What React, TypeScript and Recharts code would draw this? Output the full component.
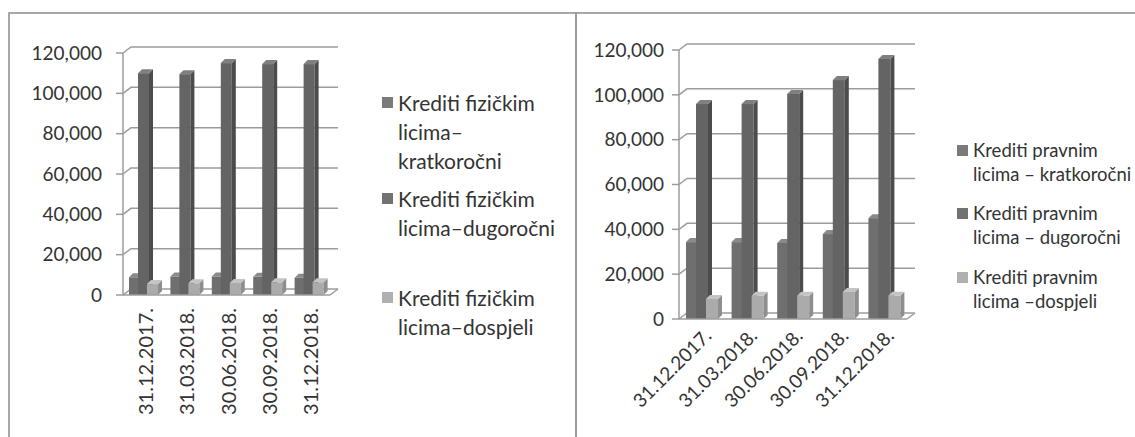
import { Bar, BarChart, CartesianGrid, XAxis, YAxis } from "recharts";

// datumi (kategorije)
const dates = ["31.12.2017.", "31.03.2018.", "30.06.2018.", "30.09.2018.", "31.12.2018."];

// krediti fizičkim licima
const fizKratko = [8800, 9200, 9200, 9000, 8600];
const fizDugo = [110000, 109500, 115000, 114500, 114500];
const fizDospjeli = [5400, 5800, 6000, 6300, 6300];

// krediti pravnim licima
const pravKratko = [34300, 34300, 33900, 37900, 45000];
const pravDugo = [95900, 95900, 100400, 106600, 116000];
const pravDospjeli = [8900, 10400, 10400, 12100, 10400];

const yTicks = [0, 20000, 40000, 60000, 80000, 100000, 120000];

const fizNames = [
  "Krediti fizičkim\nlicima–\nkratkoročni",
  "Krediti fizičkim\nlicima–dugoročni",
  "Krediti fizičkim\nlicima–dospjeli",
];
const pravNames = [
  "Krediti pravnim\nlicima – kratkoročni",
  "Krediti pravnim\nlicima – dugoročni",
  "Krediti pravnim\nlicima –dospjeli",
];

const FONT = "Lato, 'Open Sans', sans-serif";
const textColor = "#333333";
const lineColor = "#9c9c9c";
// front, side, top
const seriesColors = [
  ["#6f6f6f", "#555555", "#8a8a8a"],
  ["#646464", "#4c4c4c", "#808080"],
  ["#ababab", "#8e8e8e", "#c4c4c4"],
];
const legendColors = ["#7a7a7a", "#727272", "#b0b0b0"];

function Box3D(props: any) {
  const { x, y, width, height, colors } = props;
  if (!height || height <= 0) return null;
  const d = 4;
  const [front, side, top] = colors;
  return (
    <g>
      <rect x={x} y={y} width={width} height={height} fill={front} />
      <polygon
        points={`${x + width},${y} ${x + width + d},${y - d} ${x + width + d},${y + height - d} ${x + width},${y + height}`}
        fill={side}
      />
      <polygon
        points={`${x},${y} ${x + d},${y - d} ${x + width + d},${y - d} ${x + width},${y}`}
        fill={top}
      />
    </g>
  );
}

// zid u pozadini (3D mreža)
function wallLine(dx: number, dy: number) {
  return (p: any) => {
    const { x1, x2, y1 } = p;
    const floor = Math.abs(y1 - (p.y + p.height)) < 0.5;
    return (
      <g key={p.key}>
        <polyline
          points={`${x1},${y1} ${x1 + dx},${y1 - dy} ${x2 + dx},${y1 - dy}`}
          fill="none"
          stroke={lineColor}
          strokeWidth={1.5}
        />
        {floor && (
          <line x1={x2} y1={y1} x2={x2 + dx} y2={y1 - dy} stroke={lineColor} strokeWidth={1.5} />
        )}
      </g>
    );
  };
}

const VertTick = ({ x, y, payload }: any) => {
  const tx = x + 9;
  const ty = y + 13;
  return (
    <text
      x={tx}
      y={ty}
      transform={`rotate(-90 ${tx} ${ty})`}
      textAnchor="end"
      fontSize={20}
      fontFamily={FONT}
      fill={textColor}
    >
      {payload.value}
    </text>
  );
};

const SlantTick = ({ x, y, payload }: any) => {
  const tx = x + 11;
  const ty = y + 18;
  return (
    <text
      x={tx}
      y={ty}
      transform={`rotate(-45 ${tx} ${ty})`}
      textAnchor="end"
      fontSize={19}
      fontFamily={FONT}
      fill={textColor}
    >
      {payload.value}
    </text>
  );
};

function LegendBox({
  names,
  left,
  tops,
  fontSize,
  lineHeight,
}: {
  names: string[];
  left: number;
  tops: number[];
  fontSize: number;
  lineHeight: number;
}) {
  return (
    <>
      {names.map((n, i) => (
        <div key={n} style={{ position: "absolute", left, top: tops[i] - lineHeight / 2 }}>
          <div
            style={{
              position: "absolute",
              left: 0,
              top: lineHeight / 2 - 5.5,
              width: 11,
              height: 11,
              background: legendColors[i],
            }}
          />
          <div
            style={{
              position: "absolute",
              left: 16,
              top: 0,
              whiteSpace: "pre",
              fontSize,
              lineHeight: `${lineHeight}px`,
              color: textColor,
              fontFamily: FONT,
            }}
          >
            {n}
          </div>
        </div>
      ))}
    </>
  );
}

function Chart3D({
  kratko,
  dugo,
  dospjeli,
  width,
  margin,
  yWidth,
  tickMargin,
  barSize,
  tick,
}: any) {
  const rows = dates.map((d, i) => ({
    date: d,
    kratko: kratko[i],
    dugo: dugo[i],
    dospjeli: dospjeli[i],
  }));
  const edges = dates.map((_, i) => i).concat(dates.length);
  return (
    <BarChart width={width} height={437} data={rows} margin={margin} barSize={barSize} barGap={-2}>
      <CartesianGrid vertical={false} horizontal={wallLine(8, 6)} stroke={lineColor} />
      <XAxis
        dataKey="date"
        height={1}
        interval={0}
        tickLine={false}
        tickSize={0}
        tickMargin={0}
        axisLine={{ stroke: lineColor, strokeWidth: 1.5 }}
        tick={tick}
      />
      <XAxis
        xAxisId="edge"
        type="number"
        domain={[0, dates.length]}
        ticks={edges}
        interval={0}
        height={1}
        tick={false}
        axisLine={false}
        tickSize={7}
        tickLine={{ stroke: lineColor, strokeWidth: 1.5 }}
      />
      <YAxis
        width={yWidth}
        domain={[0, 120000]}
        ticks={yTicks}
        interval={0}
        tickSize={7}
        tickMargin={tickMargin}
        tickFormatter={(v) => Number(v).toLocaleString("en-US")}
        tick={{ fontSize: 19, fill: textColor, fontFamily: FONT }}
        axisLine={{ stroke: lineColor, strokeWidth: 1.5 }}
        tickLine={{ stroke: lineColor, strokeWidth: 1.5 }}
      />
      {["kratko", "dugo", "dospjeli"].map((k, i) => (
        <Bar
          key={k}
          dataKey={k}
          isAnimationActive={false}
          shape={(p: any) => <Box3D {...p} colors={seriesColors[i]} />}
        />
      ))}
    </BarChart>
  );
}

export default function App() {
  return (
    <div
      style={{
        position: "absolute",
        left: 0,
        top: 0,
        width: 1135,
        height: 437,
        overflow: "hidden",
        background: "#fff",
        fontFamily: FONT,
      }}
    >
      <div
        style={{
          position: "absolute",
          left: 8,
          top: 12,
          width: 1200,
          height: 500,
          borderTop: "2px solid #a8a8a8",
          borderLeft: "2px solid #a8a8a8",
        }}
      />
      <div
        style={{ position: "absolute", left: 575, top: 12, width: 2, height: 430, background: "#9a9a9a" }}
      />
      <div style={{ position: "absolute", left: 0, top: 0 }}>
        <Chart3D
          kratko={fizKratko}
          dugo={fizDugo}
          dospjeli={fizDospjeli}
          width={576}
          margin={{ top: 53, right: 246, bottom: 140, left: 0 }}
          yWidth={123}
          tickMargin={14}
          barSize={11}
          tick={<VertTick />}
        />
      </div>
      <LegendBox names={fizNames} left={382} tops={[102, 198, 297]} fontSize={21} lineHeight={29} />
      <div style={{ position: "absolute", left: 576, top: 0 }}>
        <Chart3D
          kratko={pravKratko}
          dugo={pravDugo}
          dospjeli={pravDospjeli}
          width={559}
          margin={{ top: 50, right: 228, bottom: 116, left: 0 }}
          yWidth={103}
          tickMargin={8}
          barSize={12}
          tick={<SlantTick />}
        />
      </div>
      <LegendBox names={pravNames} left={957} tops={[150, 213, 277]} fontSize={18.5} lineHeight={24} />
    </div>
  );
}
